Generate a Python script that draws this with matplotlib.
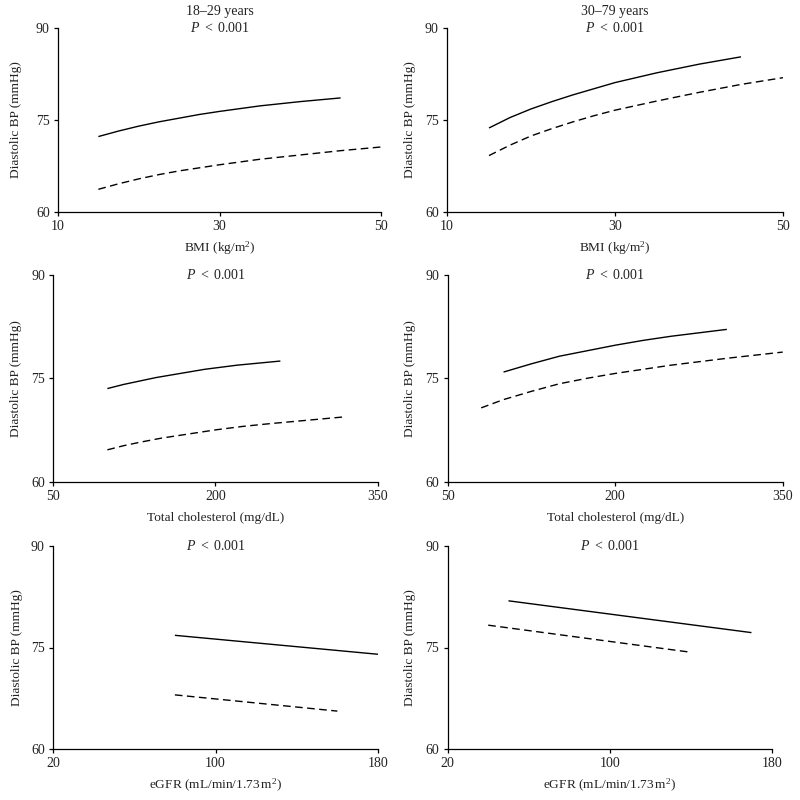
import matplotlib
matplotlib.use("Agg")
import matplotlib.pyplot as plt

plt.rcParams['font.family'] = ['Liberation Serif', 'DejaVu Serif']
plt.rcParams['mathtext.fontset'] = 'custom'
plt.rcParams['mathtext.rm'] = 'Liberation Serif'
plt.rcParams['mathtext.it'] = 'Liberation Serif:italic'
plt.rcParams['mathtext.bf'] = 'Liberation Serif:bold'

# ---------------- data ----------------
age_groups = ["18\u201329 years", "30\u201379 years"]
p_text = "$P$ $<$ 0.001"
y_ticks = [60, 75, 90]
y_label = "Diastolic BP (mmHg)"

bmi_ticks = [10, 30, 50]
bmi_label = "BMI (kg/m$^2$)"
bmi_x_solid = [15, 17.5, 20, 22.5, 25, 27.5, 30, 35, 40, 45]
bmi_x_dash = [15, 17.5, 20, 22.5, 25, 27.5, 30, 35, 40, 45, 50]
bmi_young_solid = [72.3, 73.2, 74.0, 74.7, 75.3, 75.9, 76.4, 77.3, 78.0, 78.6]
bmi_young_dash = [63.7, 64.6, 65.4, 66.1, 66.7, 67.2, 67.7, 68.6, 69.3, 70.0, 70.6]
bmi_old_solid = [73.7, 75.4, 76.8, 78.0, 79.1, 80.1, 81.1, 82.7, 84.1, 85.3]
bmi_old_dash = [69.2, 70.9, 72.4, 73.6, 74.7, 75.7, 76.6, 78.1, 79.5, 80.8, 81.9]

chol_ticks = [50, 200, 350]
chol_label = "Total cholesterol (mg/dL)"
chol_young_x_solid = [100, 115, 130, 145, 160, 175, 190, 205, 220, 240, 260]
chol_young_solid = [73.5, 74.1, 74.6, 75.1, 75.5, 75.9, 76.3, 76.6, 76.9, 77.2, 77.5]
chol_young_x_dash = [100, 115, 130, 150, 175, 200, 225, 250, 285, 320]
chol_young_dash = [64.6, 65.2, 65.7, 66.3, 66.9, 67.5, 68.0, 68.4, 68.9, 69.4]
chol_old_x_solid = [100, 125, 150, 175, 200, 225, 250, 275, 300]
chol_old_solid = [75.9, 77.1, 78.2, 79.0, 79.8, 80.5, 81.1, 81.6, 82.1]
chol_old_x_dash = [80, 90, 100, 125, 150, 175, 200, 250, 300, 350]
chol_old_dash = [70.7, 71.3, 71.9, 73.1, 74.2, 75.0, 75.7, 76.9, 77.9, 78.8]

egfr_ticks = [20, 100, 180]
egfr_label = "eGFR (mL/min/1.73$\\,$m$^2$)"
egfr_young_x_solid = [80, 180]
egfr_young_solid = [76.8, 74.0]
egfr_young_x_dash = [80, 160]
egfr_young_dash = [68.0, 65.6]
egfr_old_x_solid = [50, 170]
egfr_old_solid = [81.9, 77.2]
egfr_old_x_dash = [40, 140]
egfr_old_dash = [78.3, 74.3]

# ---------------- layout (pixel boxes: left, top, right, bottom) ----------------
W = H = 800
boxes = [
    (58, 28, 381, 212), (447, 28, 783, 212),
    (53.3, 275, 377.7, 481.5), (447.7, 275, 782.7, 481.5),
    (53, 546, 378, 749), (447.7, 546, 771.7, 749),
]
ylabel_px = [16, 410, 16, 410, 17, 410]

panels = [
    (bmi_ticks, bmi_label, bmi_x_solid, bmi_young_solid, bmi_x_dash, bmi_young_dash),
    (bmi_ticks, bmi_label, bmi_x_solid, bmi_old_solid, bmi_x_dash, bmi_old_dash),
    (chol_ticks, chol_label, chol_young_x_solid, chol_young_solid, chol_young_x_dash, chol_young_dash),
    (chol_ticks, chol_label, chol_old_x_solid, chol_old_solid, chol_old_x_dash, chol_old_dash),
    (egfr_ticks, egfr_label, egfr_young_x_solid, egfr_young_solid, egfr_young_x_dash, egfr_young_dash),
    (egfr_ticks, egfr_label, egfr_old_x_solid, egfr_old_solid, egfr_old_x_dash, egfr_old_dash),
]

fig = plt.figure(figsize=(8, 8), dpi=100)
fs = 10
lfs = 9.6
txt_color = '#222222'

for i, (box, pan) in enumerate(zip(boxes, panels)):
    l, t, r, b = box
    ax = fig.add_axes([l / W, 1 - b / H, (r - l) / W, (b - t) / H])
    xt, xl, xs, ys, xd, yd = pan
    ax.plot(xs, ys, color='black', lw=1.0, solid_capstyle='butt', solid_joinstyle='round')
    ax.plot(xd, yd, color='black', lw=1.0, linestyle=(0, (5.5, 3.2)))
    ax.set_xlim(xt[0], xt[-1])
    ax.set_ylim(y_ticks[0], y_ticks[-1])
    ax.set_xticks(xt)
    ax.set_yticks(y_ticks)
    for s in ['top', 'right']:
        ax.spines[s].set_visible(False)
    for s in ['left', 'bottom']:
        ax.spines[s].set_linewidth(0.9)
        ax.spines[s].set_color('black')
    ax.tick_params(direction='out', length=3, width=0.9, labelsize=fs,
                   pad=3, colors='black', labelcolor=txt_color)
    ax.set_xlabel(xl, fontsize=lfs, color=txt_color, va='center')
    ax.xaxis.set_label_coords(0.5, -36.5 / (b - t))
    ax.set_ylabel(y_label, fontsize=lfs, color=txt_color, va='center')
    ax.yaxis.set_label_coords((ylabel_px[i] - l) / (r - l), 0.5)
    ax.text(0.5, 1.0, p_text, transform=ax.transAxes, ha='center', va='center',
            fontsize=fs, color=txt_color)
    if i < 2:
        ax.annotate(age_groups[i], xy=(0.5, 1.0), xycoords='axes fraction',
                    xytext=(0, 12), textcoords='offset points',
                    ha='center', va='center', fontsize=fs, color=txt_color)

fig.savefig("out.png", dpi=100)
